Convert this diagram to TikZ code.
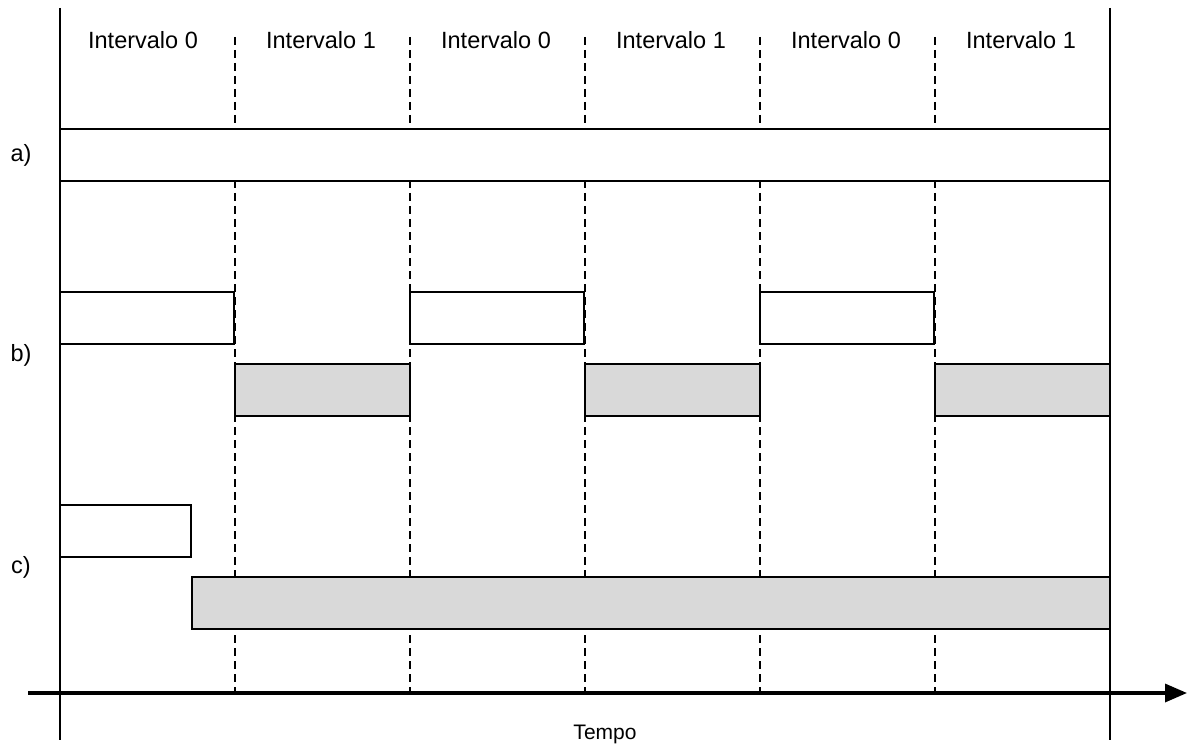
\documentclass[tikz,border=0pt]{standalone}
\usepackage{fontspec}
\setmainfont{Liberation Sans}
\usetikzlibrary{arrows.meta}
\definecolor{slotgray}{HTML}{D9D9D9}
\begin{document}
\begin{tikzpicture}[x=1pt,y=-1pt,
  frame/.style={line width=1.5pt},
  sep/.style={line width=1.3pt,dash pattern=on 8pt off 5pt},
  slot/.style={draw,line width=1.5pt,fill=white},
  busy/.style={draw,line width=1.5pt,fill=slotgray},
  lbl/.style={font=\fontsize{23.5}{26}\selectfont,inner sep=0pt},
  axis/.style={line width=3.4pt,-{Triangle[length=22pt,width=18pt]}}]
\useasboundingbox (0,0) rectangle (1188,746);
% outer time limits
\draw[frame] (60,8) -- (60,740);
\draw[frame] (1110,8) -- (1110,740);
% interval separators
\foreach \x in {235,410,585,760,935}
  \draw[sep] (\x,37) -- (\x,695);
% interval headings
\foreach \c/\t [count=\i] in {143/0,321/1,496/0,671/1,846/0,1021/1}
  \node[lbl] (head\i) at (\c,40) {Intervalo \t};
% row a
\node[lbl] (ra) at (21,155) {a)};
\draw[slot] (60,129) rectangle (1110,181);
% row b
\node[lbl] (rb) at (21,355) {b)};
\foreach \x in {60,410,760}
  \draw[slot] (\x,292) rectangle ({\x+174},344);
\foreach \x in {235,585,935}
  \draw[busy] (\x,364) rectangle ({\x+175},416);
% row c
\node[lbl] (rc) at (21,567) {c)};
\draw[slot] (60,505) rectangle (191,557);
\draw[busy] (192,577) rectangle (1110,629);
% time axis
\coordinate (t0) at (28,693);
\coordinate (t1) at (1187,693);
\draw[axis] (t0) -- (t1);
\node[font=\fontsize{21}{24}\selectfont,inner sep=0pt] (tempo) at (605,734) {Tempo};
\end{tikzpicture}
\end{document}
